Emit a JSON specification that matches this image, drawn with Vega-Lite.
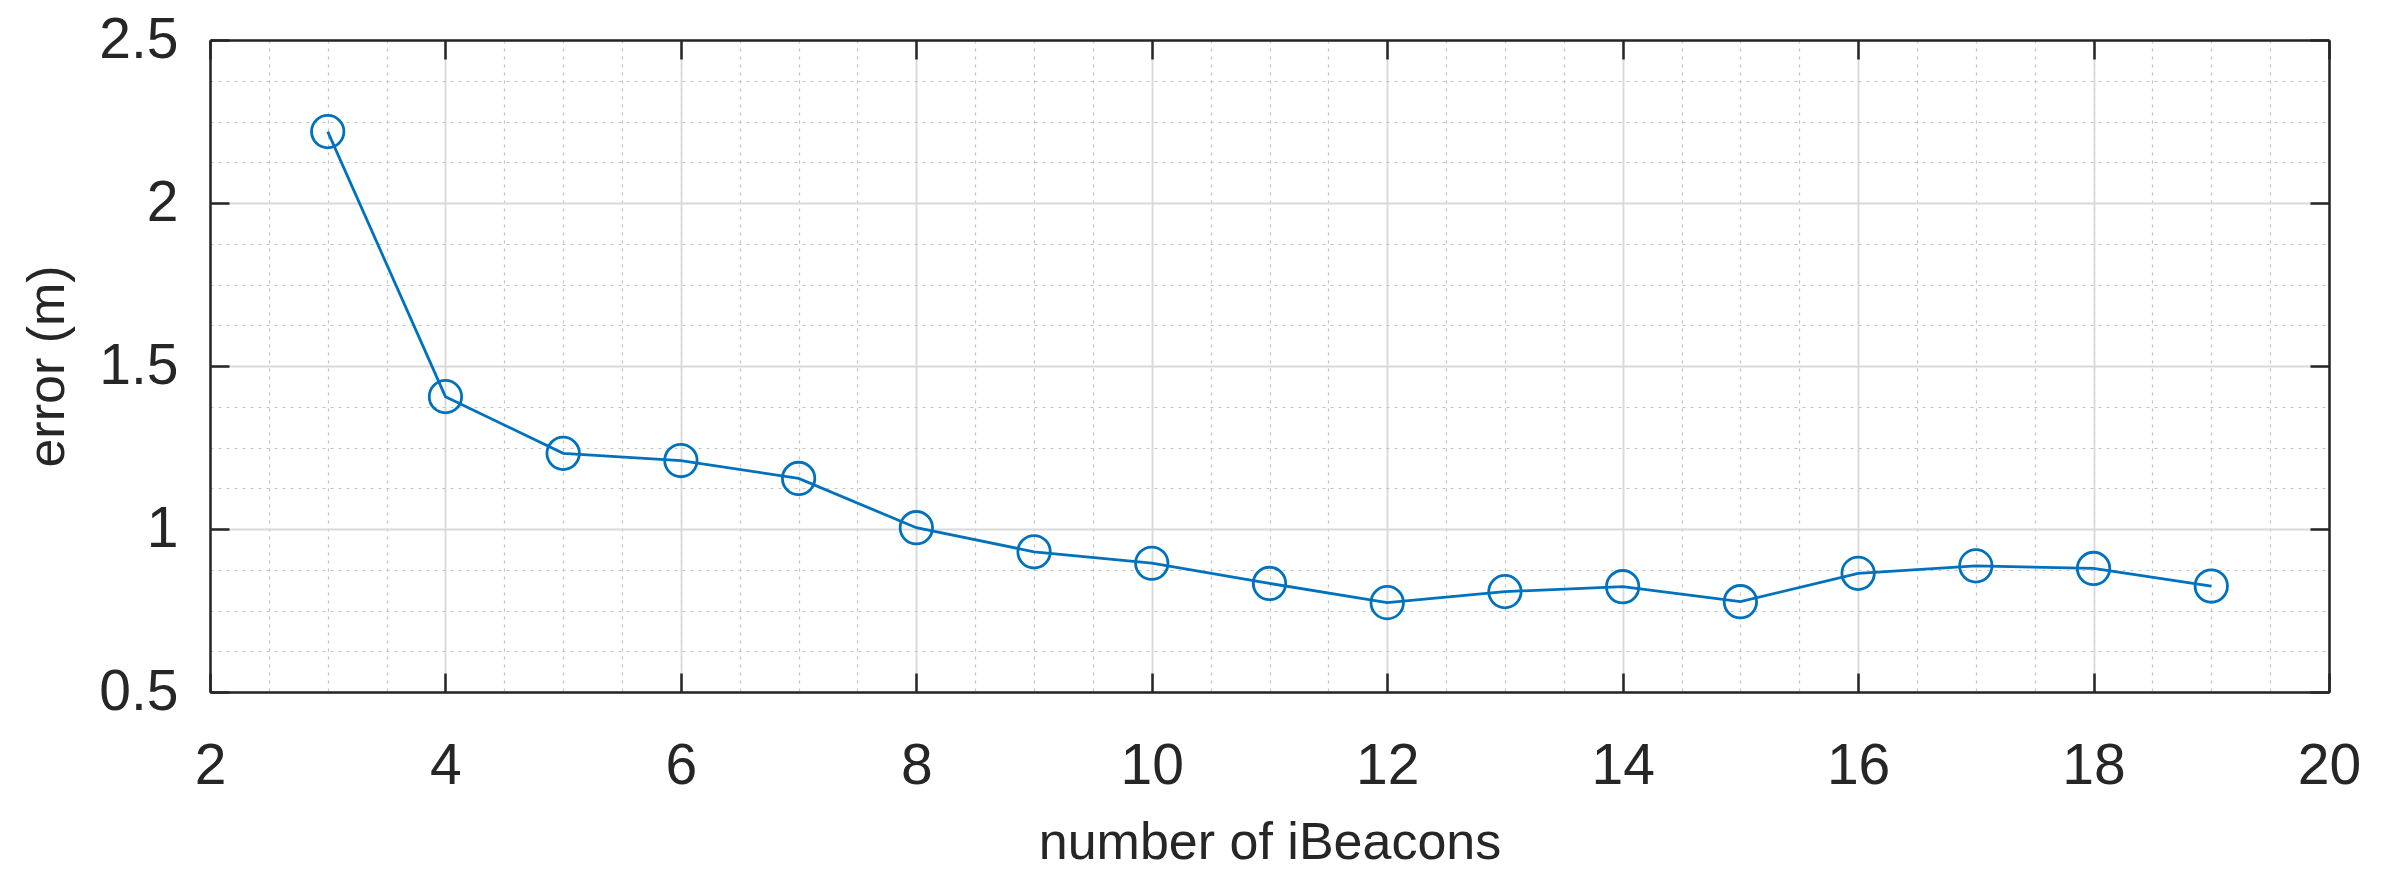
{
  "$schema": "https://vega.github.io/schema/vega-lite/v6.json",
  "width": 2119,
  "height": 652,
  "autosize": "none",
  "padding": {"left": 210, "top": 40, "right": 55, "bottom": 187},
  "background": "white",
  "config": {
    "view": {"stroke": null},
    "font": "Liberation Sans",
    "axis": {"labelFont": "Liberation Sans", "titleFont": "Liberation Sans", "labelColor": "#262626", "titleColor": "#262626", "titleFontWeight": "normal"}
  },
  "data": {
    "values": [
      {"n": 3, "err": 2.219},
      {"n": 4, "err": 1.406},
      {"n": 5, "err": 1.232},
      {"n": 6, "err": 1.21},
      {"n": 7, "err": 1.155},
      {"n": 8, "err": 1.004},
      {"n": 9, "err": 0.93},
      {"n": 10, "err": 0.895},
      {"n": 11, "err": 0.833},
      {"n": 12, "err": 0.774},
      {"n": 13, "err": 0.808},
      {"n": 14, "err": 0.823},
      {"n": 15, "err": 0.777},
      {"n": 16, "err": 0.864},
      {"n": 17, "err": 0.887},
      {"n": 18, "err": 0.879},
      {"n": 19, "err": 0.825}
    ]
  },
  "resolve": {"scale": {"x": "shared", "y": "shared"}, "axis": {"x": "independent", "y": "independent"}},
  "layer": [
    {
      "mark": {"type": "line", "color": "#0072BD", "strokeWidth": 2.8},
      "encoding": {
        "x": {"field": "n", "type": "quantitative", "scale": {"domain": [2, 20], "nice": false, "zero": false},
          "axis": {"orient": "bottom", "values": [2,2.5,3,3.5,4,4.5,5,5.5,6,6.5,7,7.5,8,8.5,9,9.5,10,10.5,11,11.5,12,12.5,13,13.5,14,14.5,15,15.5,16,16.5,17,17.5,18,18.5,19,19.5,20],
            "grid": true, "gridColor": "#c4c4c4", "gridDash": [3, 5], "gridWidth": 1.2, "labels": false, "ticks": false, "domain": false, "title": null}},
        "y": {"field": "err", "type": "quantitative", "scale": {"domain": [0.5, 2.5], "nice": false, "zero": false},
          "axis": {"orient": "left", "values": [0.5,0.625,0.75,0.875,1,1.125,1.25,1.375,1.5,1.625,1.75,1.875,2,2.125,2.25,2.375,2.5],
            "grid": true, "gridColor": "#c4c4c4", "gridDash": [3, 5], "gridWidth": 1.2, "labels": false, "ticks": false, "domain": false, "title": null}}
      }
    },
    {
      "mark": {"type": "point", "shape": "circle", "filled": false, "color": "#0072BD", "strokeWidth": 2.8, "size": 1050, "opacity": 1},
      "encoding": {
        "x": {"field": "n", "type": "quantitative", "scale": {"domain": [2, 20], "nice": false, "zero": false},
          "axis": {"orient": "bottom", "values": [2,4,6,8,10,12,14,16,18,20], "format": "~g", "grid": true, "gridColor": "#d9d9d9", "gridWidth": 1.8,
            "ticks": false, "labelPadding": 46, "labelFontSize": 57, "labelBaseline": "top", "labelFlush": false,
            "domain": true, "domainColor": "#262626", "domainWidth": 2.5,
            "title": "number of iBeacons", "titleFontSize": 52, "titleBaseline": "alphabetic", "titleX": 1059.5, "titleY": 166}},
        "y": {"field": "err", "type": "quantitative", "scale": {"domain": [0.5, 2.5], "nice": false, "zero": false},
          "axis": {"orient": "left", "values": [0.5,1,1.5,2,2.5], "format": "~g", "grid": true, "gridColor": "#d9d9d9", "gridWidth": 1.8,
            "ticks": false, "labelPadding": 32, "labelFontSize": 57, "labelBaseline": "middle", "labelFlush": false,
            "domain": true, "domainColor": "#262626", "domainWidth": 2.5,
            "title": "error (m)", "titleFontSize": 52, "titleAngle": -90, "titleAlign": "center", "titleBaseline": "alphabetic", "titleX": -147, "titleY": 326}}
      }
    },
    {
      "mark": {"type": "point", "opacity": 0},
      "encoding": {
        "x": {"field": "n", "type": "quantitative", "scale": {"domain": [2, 20], "nice": false, "zero": false},
          "axis": {"orient": "bottom", "values": [2,4,6,8,10,12,14,16,18,20], "grid": false, "labels": false, "domain": false, "ticks": true, "tickSize": -19, "tickWidth": 2.5, "tickColor": "#262626", "title": null}},
        "y": {"field": "err", "type": "quantitative", "scale": {"domain": [0.5, 2.5], "nice": false, "zero": false},
          "axis": {"orient": "left", "values": [0.5,1,1.5,2,2.5], "grid": false, "labels": false, "domain": false, "ticks": true, "tickSize": -19, "tickWidth": 2.5, "tickColor": "#262626", "title": null}}
      }
    },
    {
      "mark": {"type": "point", "opacity": 0},
      "encoding": {
        "x": {"field": "n", "type": "quantitative", "scale": {"domain": [2, 20], "nice": false, "zero": false},
          "axis": {"orient": "top", "values": [2,4,6,8,10,12,14,16,18,20], "grid": false, "labels": false, "domain": true, "domainColor": "#262626", "domainWidth": 2.5, "ticks": true, "tickSize": -19, "tickWidth": 2.5, "tickColor": "#262626", "title": null}},
        "y": {"field": "err", "type": "quantitative", "scale": {"domain": [0.5, 2.5], "nice": false, "zero": false},
          "axis": {"orient": "right", "values": [0.5,1,1.5,2,2.5], "grid": false, "labels": false, "domain": true, "domainColor": "#262626", "domainWidth": 2.5, "ticks": true, "tickSize": -19, "tickWidth": 2.5, "tickColor": "#262626", "title": null}}
      }
    }
  ]
}
